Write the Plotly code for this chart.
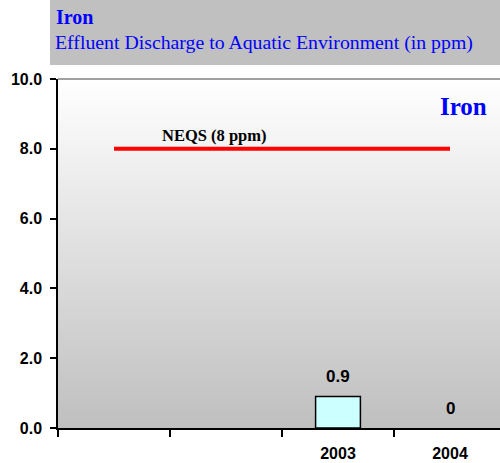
import plotly.graph_objects as go

# Data
years = [" ", "  ", "2003", "2004"]
iron_ppm = [None, None, 0.9, 0]
neqs_limit = [8, 8, 8, 8]
y_ticks = [0, 2, 4, 6, 8, 10]

W, H = 500, 463
L, R, T, B = 58, 0, 79, 35
plot_w = W - L - R
plot_h = H - T - B
cat_px = 112.0
x_hi = -0.5 + plot_w / cat_px


def px_x(px):
    return (px - L) / plot_w


def px_y(py):
    return (H - B - py) / plot_h


fig = go.Figure()

# zero-height bars get no outline
bar_edges = [0 if (v is None or v == 0) else 1.5 for v in iron_ppm]

fig.add_trace(go.Bar(
    x=years, y=iron_ppm, width=0.4,
    marker=dict(color="#ccffff", line=dict(color="black", width=bar_edges)),
    hoverinfo="skip", showlegend=False,
))

fig.add_trace(go.Scatter(
    x=years, y=neqs_limit, mode="lines",
    line=dict(color="#ff0000", width=4),
    hoverinfo="skip", showlegend=False,
))

# vertical white-to-grey background gradient (each band runs down to the
# floor so consecutive bands overlap and leave no seams)
shapes = []
n_strips = 120
top_c, bot_c = 255, 191
for i in range(n_strips):
    f = (i + 0.5) / n_strips
    c = round(top_c + (bot_c - top_c) * f)
    shapes.append(dict(
        type="rect", xref="paper", yref="paper",
        x0=0, x1=1, y0=0, y1=1 - i / n_strips,
        fillcolor=f"rgb({c},{c},{c})", line=dict(width=0), layer="below",
    ))

# header band
shapes.append(dict(
    type="rect", xref="paper", yref="paper",
    x0=px_x(50), x1=px_x(W + 5), y0=px_y(65), y1=px_y(-5),
    fillcolor="#c0c0c0", line=dict(width=0), layer="below",
))
# thin top border of the plot area
shapes.append(dict(
    type="line", xref="paper", yref="paper",
    x0=0, x1=1, y0=1, y1=1, line=dict(color="#808080", width=1.5),
))

annotations = [
    dict(text="<b>Iron</b>", xref="paper", yref="paper",
         x=px_x(54), y=px_y(17), xanchor="left", yanchor="middle",
         showarrow=False, font=dict(family="Liberation Serif", size=20, color="#0000ff")),
    dict(text="Effluent Discharge to Aquatic Environment (in ppm)",
         xref="paper", yref="paper",
         x=px_x(53), y=px_y(43), xanchor="left", yanchor="middle",
         showarrow=False, font=dict(family="Liberation Serif", size=19.8, color="#0000ff")),
    dict(text="<b>Iron</b>", xref="paper", yref="paper",
         x=px_x(489), y=px_y(107), xanchor="right", yanchor="middle",
         showarrow=False, font=dict(family="Liberation Serif", size=25, color="#0000ff")),
    dict(text="<b>NEQS (8 ppm)</b>", xref="paper", yref="y",
         x=px_x(214), y=neqs_limit[0], yshift=13, xanchor="center", yanchor="middle",
         showarrow=False, font=dict(family="Liberation Serif", size=16.5, color="black")),
]
# value labels above each bar (category index keeps numeric-looking labels
# from being read as coordinates)
for i, v in enumerate(iron_ppm):
    if v is None:
        continue
    annotations.append(dict(
        text=f"<b>{v:g}</b>", xref="x", yref="y", x=i, y=v, yshift=20,
        xanchor="center", yanchor="middle", showarrow=False,
        font=dict(family="Liberation Sans", size=17, color="black"),
    ))

tick_font = dict(family="Liberation Sans", size=16, color="black", weight="bold")

fig.update_layout(
    width=W, height=H,
    margin=dict(l=L, r=R, t=T, b=B),
    paper_bgcolor="white", plot_bgcolor="white",
    shapes=shapes, annotations=annotations,
    xaxis=dict(
        type="category", categoryorder="array", categoryarray=years,
        range=[-0.5, x_hi], tickson="boundaries",
        ticks="outside", ticklen=7, tickwidth=1.5, tickcolor="black",
        showline=True, linecolor="black", linewidth=2,
        showgrid=False, zeroline=False, tickfont=tick_font,
        ticklabelstandoff=10, fixedrange=True,
    ),
    xaxis2=dict(
        overlaying="x", anchor="y", range=[-0.5, x_hi],
        tickmode="array", tickvals=[-0.5, 0.5, 1.5, 2.5, 3.5],
        ticks="inside", ticklen=6, tickwidth=1.5, tickcolor="black",
        showticklabels=False, showline=False, showgrid=False, zeroline=False,
    ),
    yaxis=dict(
        range=[0, 10], tickmode="array", tickvals=y_ticks, tickformat=".1f",
        ticks="outside", ticklen=6, tickwidth=1.5, tickcolor="black",
        showline=True, linecolor="black", linewidth=1.5,
        showgrid=False, zeroline=False, tickfont=tick_font,
        ticklabelstandoff=5,
    ),
    yaxis2=dict(
        overlaying="y", anchor="x", side="left", range=[0, 10],
        tickmode="array", tickvals=y_ticks,
        ticks="inside", ticklen=5, tickwidth=1.5, tickcolor="black",
        showticklabels=False, showline=False, showgrid=False, zeroline=False,
    ),
)

fig.write_html("out.html")
